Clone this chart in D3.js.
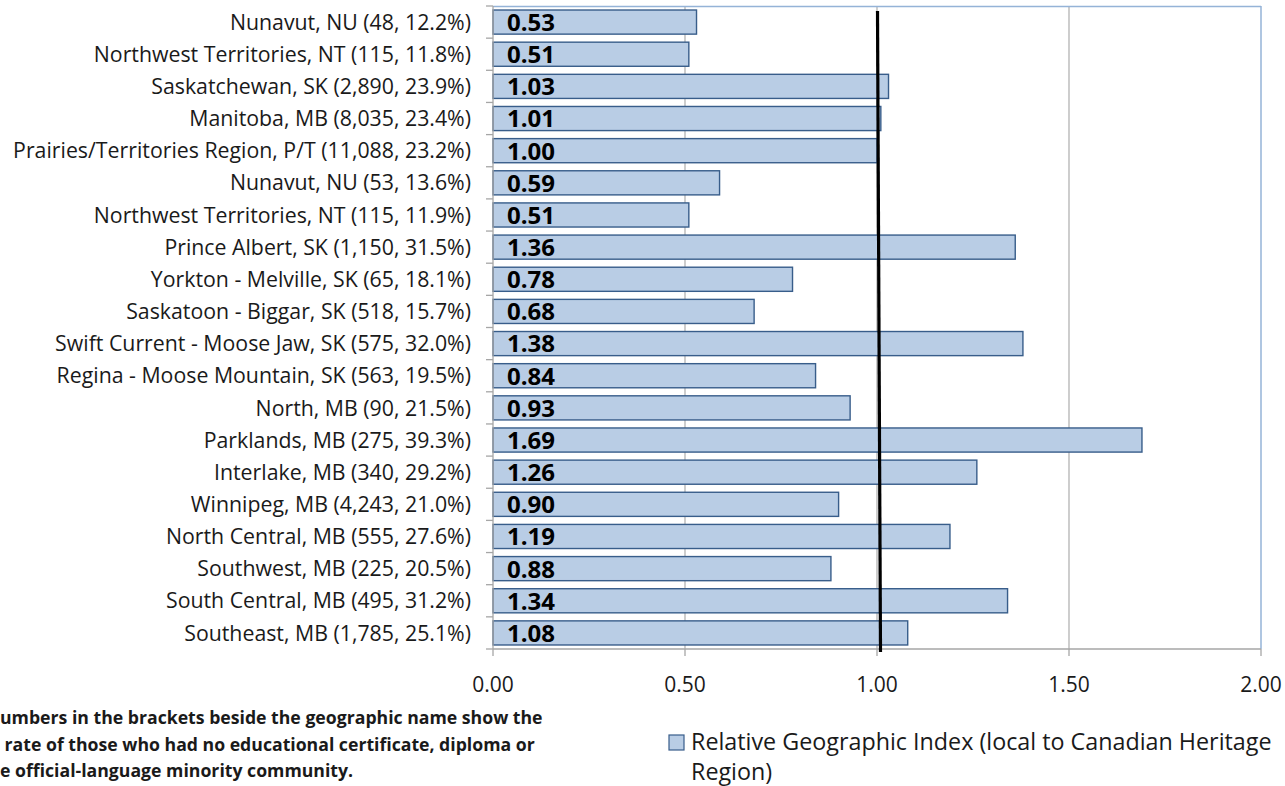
<!DOCTYPE html>
<html>
<head>
<meta charset="utf-8">
<script src="https://cdn.jsdelivr.net/npm/d3@7"></script>
<style>
  html, body { margin: 0; padding: 0; background: #fff; }
  svg { display: block; }
</style>
</head>
<body>
<svg id="chart" width="1285" height="786"></svg>
<script>
const categories = [
  "Nunavut, NU (48, 12.2%)",
  "Northwest Territories, NT (115, 11.8%)",
  "Saskatchewan, SK (2,890, 23.9%)",
  "Manitoba, MB (8,035, 23.4%)",
  "Prairies/Territories Region, P/T (11,088, 23.2%)",
  "Nunavut, NU (53, 13.6%)",
  "Northwest Territories, NT (115, 11.9%)",
  "Prince Albert, SK (1,150, 31.5%)",
  "Yorkton - Melville, SK (65, 18.1%)",
  "Saskatoon - Biggar, SK (518, 15.7%)",
  "Swift Current - Moose Jaw, SK (575, 32.0%)",
  "Regina - Moose Mountain, SK (563, 19.5%)",
  "North, MB (90, 21.5%)",
  "Parklands, MB (275, 39.3%)",
  "Interlake, MB (340, 29.2%)",
  "Winnipeg, MB (4,243, 21.0%)",
  "North Central, MB (555, 27.6%)",
  "Southwest, MB (225, 20.5%)",
  "South Central, MB (495, 31.2%)",
  "Southeast, MB (1,785, 25.1%)"
];
const values = [0.53, 0.51, 1.03, 1.01, 1.00, 0.59, 0.51, 1.36, 0.78, 0.68, 1.38, 0.84, 0.93, 1.69, 1.26, 0.90, 1.19, 0.88, 1.34, 1.08];
const xTicks = [0, 0.5, 1.0, 1.5, 2.0];
const referenceValue = 1.0;
const seriesName = ["Relative Geographic Index (local to Canadian Heritage", "Region)"];
const footnote = [
  "umbers in the brackets beside the geographic name show the",
  " rate of those who had no educational certificate, diploma or",
  "e official-language minority community."
];

const data = categories.map((c, i) => ({ cat: c, key: i, value: values[i] }));

const svg = d3.select("#chart");
const FONT = "'Open Sans', 'Noto Sans', sans-serif";
const plot = { left: 493, right: 1261, top: 6, bottom: 649 };

svg.append("rect").attr("width", 1285).attr("height", 786).attr("fill", "#fff");

const x = d3.scaleLinear().domain([0, 2]).range([plot.left, plot.right]);
const y = d3.scaleBand().domain(data.map(d => d.key)).range([plot.top, plot.bottom])
  .paddingInner(0.25).paddingOuter(0.125);

// gridlines
svg.append("g").selectAll("line").data(xTicks.filter(t => t > 0 && t < 2)).join("line")
  .attr("x1", d => x(d)).attr("x2", d => x(d))
  .attr("y1", plot.top).attr("y2", plot.bottom)
  .attr("stroke", "#b3b3b3").attr("stroke-width", 1.3);

// plot border (top & right) light blue
svg.append("line").attr("x1", plot.left).attr("x2", plot.right).attr("y1", plot.top + 0.5).attr("y2", plot.top + 0.5)
  .attr("stroke", "#95b3d7").attr("stroke-width", 1.5);
svg.append("line").attr("x1", plot.right).attr("x2", plot.right).attr("y1", plot.top).attr("y2", plot.bottom)
  .attr("stroke", "#95b3d7").attr("stroke-width", 1.5);

// bars
svg.append("g").selectAll("rect").data(data).join("rect")
  .attr("x", x(0))
  .attr("y", d => y(d.key))
  .attr("width", d => x(d.value) - x(0))
  .attr("height", y.bandwidth())
  .attr("fill", "#b9cde5")
  .attr("stroke", "#385d8a")
  .attr("stroke-width", 1.4);

// value labels
svg.append("g").selectAll("text").data(data).join("text")
  .attr("x", x(0) + 14)
  .attr("y", d => y(d.key) + y.bandwidth() / 2)
  .attr("dy", "0.37em")
  .attr("font-family", FONT).attr("font-weight", "bold").attr("font-size", 24)
  .attr("fill", "#000")
  .text(d => d.value.toFixed(2));

// y axis
const yAxisG = svg.append("g").attr("transform", `translate(${plot.left},0)`);
yAxisG.append("line").attr("x1", 0).attr("x2", 0).attr("y1", plot.top).attr("y2", plot.bottom)
  .attr("stroke", "#a6a6a6").attr("stroke-width", 1.3);
const bounds = data.map(d => y(d.key) - y.step() * y.paddingInner() / 2);
bounds.push(plot.bottom);
bounds[0] = plot.top;
yAxisG.selectAll("line.tick").data(bounds).join("line").attr("class", "tick")
  .attr("x1", -7).attr("x2", 0).attr("y1", d => d).attr("y2", d => d)
  .attr("stroke", "#a6a6a6").attr("stroke-width", 1.3);

// category labels
const catLabels = svg.append("g").selectAll("text").data(data).join("text")
  .attr("x", 471)
  .attr("y", d => y(d.key) + y.bandwidth() / 2)
  .attr("dy", "0.36em")
  .attr("text-anchor", "end")
  .attr("font-family", FONT).attr("font-size", 19)
  .attr("fill", "#1a1a1a")
  .text(d => d.cat);
(function () {
  let maxW = 0;
  catLabels.each(function () { maxW = Math.max(maxW, this.getComputedTextLength()); });
  const fs = 19 * 458 / maxW;
  catLabels.attr("font-size", fs);
})();

// x axis
const xAxisG = svg.append("g").attr("transform", `translate(0,${plot.bottom})`);
xAxisG.append("line").attr("x1", plot.left).attr("x2", plot.right).attr("y1", 0).attr("y2", 0)
  .attr("stroke", "#a6a6a6").attr("stroke-width", 1.3);
xAxisG.selectAll("line.tick").data(xTicks).join("line").attr("class", "tick")
  .attr("x1", d => x(d)).attr("x2", d => x(d)).attr("y1", 0).attr("y2", 7)
  .attr("stroke", "#a6a6a6").attr("stroke-width", 1.3);
xAxisG.selectAll("text").data(xTicks).join("text")
  .attr("x", d => x(d)).attr("y", 43)
  .attr("text-anchor", "middle")
  .attr("font-family", FONT).attr("font-size", 21)
  .attr("fill", "#1a1a1a")
  .text(d => d3.format(".2f")(d));

// reference line (hand-drawn, slightly slanted)
svg.append("line")
  .attr("x1", x(referenceValue) + 0.5).attr("y1", 11)
  .attr("x2", x(referenceValue) + 3.5).attr("y2", 652)
  .attr("stroke", "#000").attr("stroke-width", 3.2);

// legend
svg.append("rect").attr("x", 669).attr("y", 735).attr("width", 15).attr("height", 15)
  .attr("fill", "#b9cde5").attr("stroke", "#385d8a").attr("stroke-width", 1.2);
const legText = svg.append("g").selectAll("text").data(seriesName).join("text")
  .attr("x", 691).attr("y", (d, i) => 750 + i * 30)
  .attr("font-family", FONT).attr("font-size", 20)
  .attr("fill", "#1a1a1a")
  .text(d => d);
(function () {
  const w = legText.nodes()[0].getComputedTextLength();
  legText.attr("font-size", 20 * 581 / w);
})();

// footnote
const foot = svg.append("g").selectAll("text").data(footnote).join("text")
  .attr("x", 0).attr("y", (d, i) => 724 + i * 26.5)
  .attr("font-family", FONT).attr("font-weight", "bold").attr("font-size", 16)
  .attr("fill", "#1a1a1a")
  .attr("xml:space", "preserve")
  .style("white-space", "pre")
  .text(d => d);
(function () {
  const w = foot.nodes()[0].getComputedTextLength();
  foot.attr("font-size", 16 * 543 / w);
})();
</script>
</body>
</html>
